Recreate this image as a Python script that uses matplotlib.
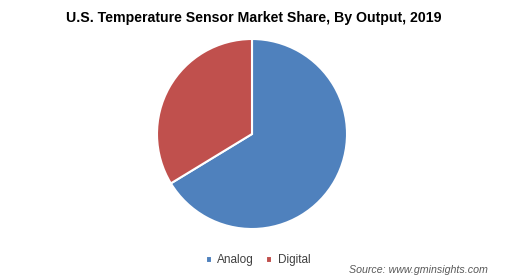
import matplotlib.pyplot as plt

plt.rcParams['font.family'] = ['Liberation Sans', 'DejaVu Sans']

# dados do grafico
categorias = ['Analog', 'Digital']
valores = [66.3, 33.7]
cores = ['#4F81BD', '#C0504D']

fig = plt.figure(figsize=(5.09, 2.8), dpi=100)
fig.patch.set_facecolor('white')

# eixo do pie (centro ~ (252,134) px, raio ~95 px)
W, H = 509, 280
cx, cy, r = 252, 280 - 134, 95
ax = fig.add_axes([(cx - r) / W, (cy - r) / H, 2 * r / W, 2 * r / H])

fatias, _ = ax.pie(valores, colors=cores, startangle=90, counterclock=False,
                   radius=1, wedgeprops={'edgecolor': 'white', 'linewidth': 1.5})
for f in fatias:
    f.set_clip_on(False)
ax.set_xlim(-1, 1)
ax.set_ylim(-1, 1)
ax.set_aspect('equal')
ax.axis('off')

fig.text(254 / W, 1 - 18 / H, 'U.S. Temperature Sensor Market Share, By Output, 2019',
         ha='center', va='center', fontsize=10.15, fontweight='bold', color='#000000')

leg = fig.legend(fatias, categorias, loc='center', bbox_to_anchor=(258 / W, 1 - 260.5 / H),
                 ncol=2, frameon=False, fontsize=8.5, handlelength=0.5, handleheight=0.5,
                 handletextpad=0.5, columnspacing=1.0, labelcolor='#404040')

fig.text(488 / W, 1 - 270 / H, 'Source: www.gminsights.com', ha='right', va='center',
         fontsize=7.7, style='italic', color='#595959')

fig.savefig('out.png', dpi=100, facecolor='white')
